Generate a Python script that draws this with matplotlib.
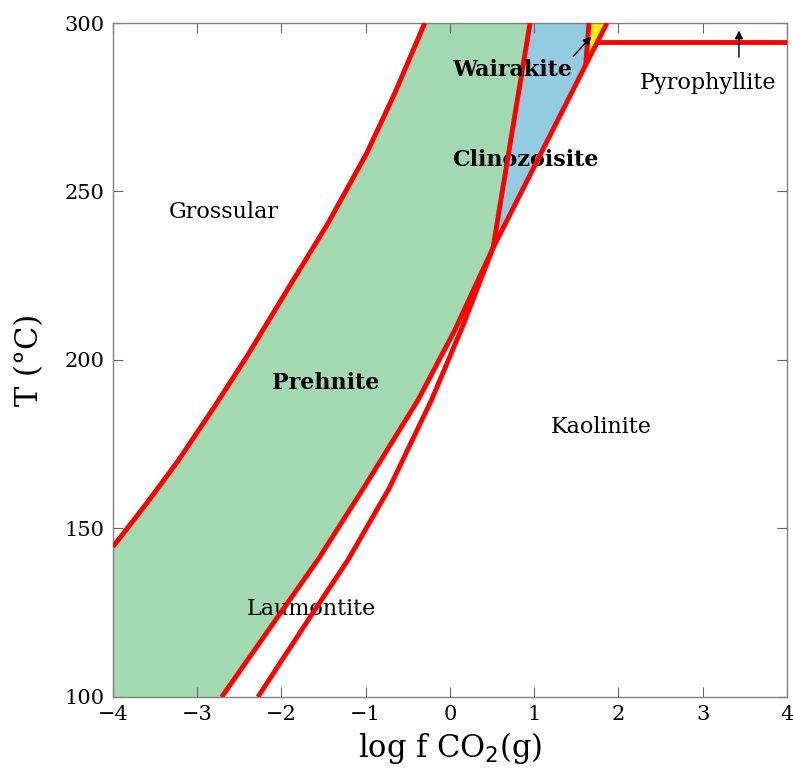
import matplotlib
matplotlib.use("Agg")
import matplotlib.pyplot as plt

# boundary curves (log fCO2, T in C)
gro_prh_x = [-4.0, -3.6, -3.23, -2.8, -2.4, -1.92, -1.45, -0.99, -0.65, -0.30]
gro_prh_y = [144.6, 157.5, 170.0, 186.0, 201.5, 221.3, 240.5, 261.3, 279.5, 300.0]

prh_kao_x = [-2.71, -2.15, -1.56, -1.0, -0.38, 0.05, 0.51]
prh_kao_y = [100.0, 120.0, 141.0, 163.0, 188.1, 208.5, 233.2]

lmt_kao_x = [-2.28, -1.64, -1.21, -0.72, -0.22, 0.15, 0.51]
lmt_kao_y = [100.0, 124.5, 140.7, 162.0, 188.1, 210.0, 233.2]

wai_czo_x = [0.51, 0.95]
wai_czo_y = [233.2, 300.0]

czo_kao_x = [0.51, 1.863]
czo_kao_y = [233.2, 300.0]

czo_yel_x = [1.61, 1.65]
czo_yel_y = [287.5, 300.0]

pyr_x = [1.75, 4.0]
pyr_y = [294.4, 294.4]

labels = ["Grossular", "Prehnite", "Laumontite", "Kaolinite",
          "Clinozoisite", "Wairakite", "Pyrophyllite"]
label_x = [-2.69, -1.47, -1.65, 1.79, 0.90, 0.74, 3.06]
label_y = [243.9, 193.2, 126.1, 180.1, 259.3, 286.1, 282.2]
label_bold = [False, True, False, False, True, True, False]

red = "#ff0000"
green = "#a3d9b1"
blue = "#93cce0"
yellow = "#f2f200"

fig = plt.figure(figsize=(7.93, 7.72), dpi=100)
ax = fig.add_axes([0.1425, 0.0972, 0.8499, 0.873])

# prehnite field (green)
px = [-4.0] + gro_prh_x + wai_czo_x[::-1] + prh_kao_x[::-1]
py = [100.0] + gro_prh_y + wai_czo_y[::-1] + prh_kao_y[::-1]
ax.fill(px, py, color=green, lw=0, zorder=1)

# clinozoisite field (blue)
bx = wai_czo_x + czo_yel_x[::-1] + czo_kao_x[::-1][1:]
by = wai_czo_y + czo_yel_y[::-1] + czo_kao_y[::-1][1:]
ax.fill(bx, by, color=blue, lw=0, zorder=1)

# small yellow field
ax.fill(czo_yel_x + [czo_kao_x[1]], czo_yel_y + [czo_kao_y[1]],
        color=yellow, lw=0, zorder=1)

for xs, ys in [(gro_prh_x, gro_prh_y), (prh_kao_x, prh_kao_y),
               (lmt_kao_x, lmt_kao_y), (wai_czo_x, wai_czo_y),
               (czo_kao_x, czo_kao_y), (czo_yel_x, czo_yel_y),
               (pyr_x, pyr_y)]:
    ax.plot(xs, ys, color=red, lw=3.5, solid_capstyle="butt",
            solid_joinstyle="round", zorder=3)

for t, x, y, b in zip(labels, label_x, label_y, label_bold):
    ax.text(x, y, t, ha="center", va="center", fontsize=16,
            family="DejaVu Serif", fontweight="bold" if b else "normal",
            zorder=4 if t == "Wairakite" else 2)

ax.annotate("", xy=(1.70, 296.6), xytext=(1.44, 289.5),
            arrowprops=dict(arrowstyle="-|>", color="black", lw=1,
                            mutation_scale=12), zorder=4)
ax.annotate("", xy=(3.43, 298.6), xytext=(3.43, 289.0),
            arrowprops=dict(arrowstyle="-|>", color="black", lw=1,
                            mutation_scale=12), zorder=4)

ax.set_xlim(-4, 4)
ax.set_ylim(100, 300)
ax.set_xticks(range(-4, 5))
ax.set_yticks(range(100, 301, 50))
ax.tick_params(direction="in", length=7, width=0.8, color="#666666",
               top=True, right=True, labelsize=15, pad=6)
for lab in ax.get_xticklabels() + ax.get_yticklabels():
    lab.set_family("DejaVu Serif")
for s in ax.spines.values():
    s.set_color("#808080")
    s.set_linewidth(1)

ax.set_xlabel("log f CO$_2$(g)", fontsize=22, family="DejaVu Serif", labelpad=4)
ax.set_ylabel("T (°C)", fontsize=22, family="DejaVu Serif", labelpad=14)

fig.savefig("out.png", dpi=100)
